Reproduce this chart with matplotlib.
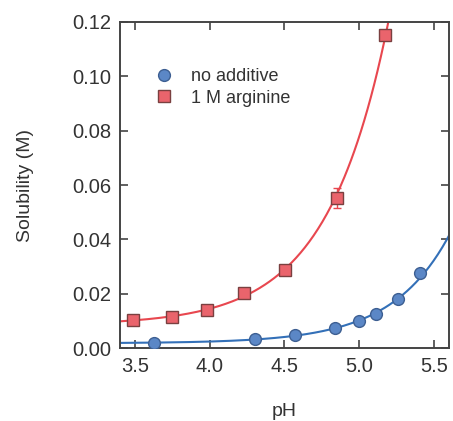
import matplotlib
matplotlib.use("Agg")
import matplotlib.pyplot as plt
import numpy as np

plt.rcParams['font.family'] = ['Liberation Sans', 'DejaVu Sans']

# no additive
ph_none = [3.63, 4.30, 4.57, 4.84, 5.00, 5.11, 5.26, 5.405]
sol_none = [0.0020, 0.0033, 0.0047, 0.0074, 0.0099, 0.0124, 0.0179, 0.0275]

# 1 M arginine
ph_arg = [3.49, 3.75, 3.98, 4.23, 4.505, 4.85, 5.17]
sol_arg = [0.0104, 0.0114, 0.0140, 0.0204, 0.0287, 0.0552, 0.1152]
err_arg = [0.0004, 0.0004, 0.0005, 0.0006, 0.0008, 0.0037, 0.0010]

blue_fill = '#5b87c6'
blue_edge = '#3d5f92'
blue_line = '#3370b8'
red_fill = '#ea646c'
red_edge = '#7a4040'
red_line = '#e8474f'
ink = '#444444'
txt = '#333333'


def fit_curve(x, y, xs):
    # offset + exponential, weighted by relative error; scan the rate
    x = np.asarray(x)
    y = np.asarray(y)
    best = None
    for k in np.linspace(0.5, 6, 551):
        A = np.column_stack([np.ones_like(x), np.exp(k * (x - 5))]) / y[:, None]
        coef, res, _, _ = np.linalg.lstsq(A, np.ones_like(y), rcond=None)
        sse = np.sum((A @ coef - 1) ** 2)
        if best is None or sse < best[0]:
            best = (sse, k, coef)
    _, k, (a, b) = best
    return a + b * np.exp(k * (xs - 5))


fig = plt.figure(figsize=(4.53, 4.21), dpi=100)
ax = fig.add_axes([0.265, 0.173, 0.726, 0.775])

xs = np.linspace(3.4, 5.6, 300)
ax.plot(xs, fit_curve(ph_none, sol_none, xs), color=blue_line, lw=1.5, zorder=2)
ax.plot(xs, fit_curve(ph_arg, sol_arg, xs), color=red_line, lw=1.5, zorder=2)

ax.errorbar(ph_arg, sol_arg, yerr=err_arg, fmt='none', ecolor=red_line,
            elinewidth=1, capsize=3, zorder=3)
ax.plot(ph_none, sol_none, 'o', ms=8.5, mfc=blue_fill, mec=blue_edge, mew=1,
        label='no additive', zorder=4)
ax.plot(ph_arg, sol_arg, 's', ms=8.5, mfc=red_fill, mec=red_edge, mew=1,
        label='1 M arginine', zorder=4)

ax.set_xlim(3.4, 5.6)
ax.set_ylim(0, 0.12)
ax.set_xticks([3.5, 4.0, 4.5, 5.0, 5.5])
ax.set_yticks([0.00, 0.02, 0.04, 0.06, 0.08, 0.10, 0.12])
ax.xaxis.set_major_formatter(matplotlib.ticker.FormatStrFormatter('%.1f'))
ax.yaxis.set_major_formatter(matplotlib.ticker.FormatStrFormatter('%.2f'))

ax.tick_params(direction='in', length=6, width=1.2, color=ink,
               top=True, right=True, labelsize=14.5, labelcolor=txt, pad=6)
for s in ax.spines.values():
    s.set_color(ink)
    s.set_linewidth(1.4)

ax.set_xlabel('pH', fontsize=14, color=txt, labelpad=20)
ax.set_ylabel('Solubility (M)', fontsize=14, color=txt, labelpad=28)

leg = ax.legend(loc='upper left', bbox_to_anchor=(0.085, 0.88), frameon=False,
                fontsize=13, handletextpad=1.0, borderaxespad=0, labelspacing=0.25,
                handlelength=1.0)
for t in leg.get_texts():
    t.set_color(txt)

fig.savefig('out.png', dpi=100)
